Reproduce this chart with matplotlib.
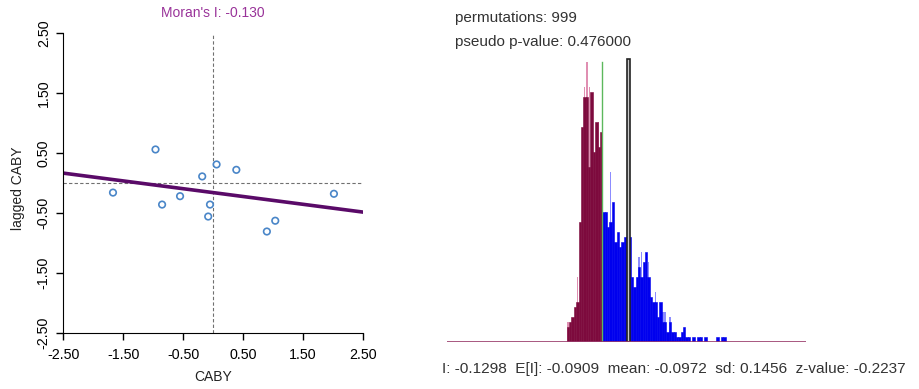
import numpy as np
import matplotlib
matplotlib.use("Agg")
import matplotlib.pyplot as plt

plt.rcParams["font.family"] = ["Liberation Sans", "DejaVu Sans"]

# Moran scatter data (standardized CABY vs spatial lag)
caby = [-1.67, -0.96, -0.85, -0.55, -0.18, -0.05, -0.08, 0.06, 0.39, 0.90, 1.04, 2.02]
lagged_caby = [-0.16, 0.56, -0.36, -0.22, 0.11, -0.36, -0.56, 0.31, 0.22, -0.81, -0.63, -0.18]
moran_slope = -0.130
moran_intercept = -0.16
ticks = [-2.5, -1.5, -0.5, 0.5, 1.5, 2.5]
tick_labels = ["-2.50", "-1.50", "-0.50", "0.50", "1.50", "2.50"]

# permutation reference distribution
hist_start = -0.3332
bin_w = 0.01356
obs_i = -0.1298
ref_bar_x = 0.0211
counts = [3, 4, 5, 7, 8, 24, 43, 49, 49, 35, 50, 38, 44, 39, 42,
          26, 26, 23, 24, 28, 20, 22, 19, 20, 21, 21, 21, 13, 11, 13, 15, 13, 16, 18, 13,
          9, 8, 8, 5, 8, 4, 4, 2, 4, 2, 2, 1, 1, 2, 3, 1, 1, 0, 1, 0, 1, 1, 0, 1,
          0, 0, 0, 0, 1, 0, 1, 1]
spikes = [4, 0, 0, 0, 13, 0, 0, 51, 56, 51, 0, 0, 0, 44, 0,
          0, 0, 0, 34, 0, 0, 0, 0, 0, 0, 0, 0, 0, 0, 0, 17, 18, 0, 0, 16,
          0, 0, 10, 0, 0, 6, 6, 0, 5, 0, 0, 0, 0, 0, 0, 0, 0, 0, 0, 0, 0, 0, 0, 0,
          0, 0, 0, 0, 0, 0, 0, 0]
stats_text = "I: -0.1298  E[I]: -0.0909  mean: -0.0972  sd: 0.1456  z-value: -0.2237"

fig = plt.figure(figsize=(9.2, 3.89), dpi=100)

# ---- left: scatter plot
ax = fig.add_axes([0.0688, 0.1447, 0.3254, 0.7697])
ax.set_xlim(-2.5, 2.5)
ax.set_ylim(-2.5, 2.5)
ax.axvline(0, color="#707070", lw=0.8, ls=(0, (3, 2)))
ax.axhline(0, color="#707070", lw=0.8, ls=(0, (3, 2)))
xs = np.array([-2.5, 2.5])
ax.plot(xs, moran_intercept + moran_slope * xs, color="#5a0a68", lw=2.6)
ax.scatter(caby, lagged_caby, s=22, facecolors="none", edgecolors="#4a86c8", linewidths=1.2, zorder=3)
for s in ["top", "right"]:
    ax.spines[s].set_visible(False)
ax.set_xticks(ticks)
ax.set_xticklabels(tick_labels)
ax.set_yticks(ticks)
ax.set_yticklabels(tick_labels, rotation=90, va="center")
ax.tick_params(direction="out", length=5, width=1, labelsize=10.3, colors="black")
ax.tick_params(axis="x", pad=6)
ax.tick_params(axis="y", pad=4)
ax.set_xlabel("CABY", fontsize=10, color="#222222")
ax.xaxis.set_label_coords(0.5, -0.125)
ax.set_ylabel("lagged CABY", fontsize=10, color="#222222")
ax.yaxis.set_label_coords(-0.128, 0.483)
ax.text(0.5, 1.053, "Moran's I: -0.130", transform=ax.transAxes, ha="center",
        va="baseline", color="#993399", fontsize=10)

# ---- right: histogram
hx = fig.add_axes([0.4859, 0.1216, 0.3902, 0.737])
centers = hist_start + bin_w * (np.arange(len(counts)) + 0.5)
left_side = centers < obs_i
face = np.where(left_side, "#7d0a3d", "#0000ee")
edge = np.where(left_side, "#e08fb2", "#8c8cff")
hx.bar(centers, spikes, width=bin_w * 0.6, color=edge, zorder=1)
hx.bar(centers, counts, width=bin_w, color=face, edgecolor=face, linewidth=0.4, zorder=2)
top = max(max(counts), max(spikes))
hx.plot([obs_i, obs_i], [0, top], color="#5cb85c", lw=1, zorder=3)
hx.bar(ref_bar_x, top + 0.5, width=0.02, color="#c8c8c8", edgecolor="#222222", linewidth=1.2, zorder=3)
hx.axhline(0, color="#9a3b6b", lw=1.2, zorder=4)
hx.set_xlim(-1.0172, 1.0342)
hx.set_ylim(0, 57.3)
hx.axis("off")

fig.text(455 / 920, 1 - 22.3 / 389, "permutations: 999", fontsize=11, color="#333333", va="baseline")
fig.text(455 / 920, 1 - 45.7 / 389, "pseudo p-value: 0.476000", fontsize=11, color="#333333", va="baseline")
fig.text(442 / 920, 1 - 373.3 / 389, stats_text, fontsize=11.1, color="#333333", va="baseline")

fig.savefig("out.png", dpi=100)
